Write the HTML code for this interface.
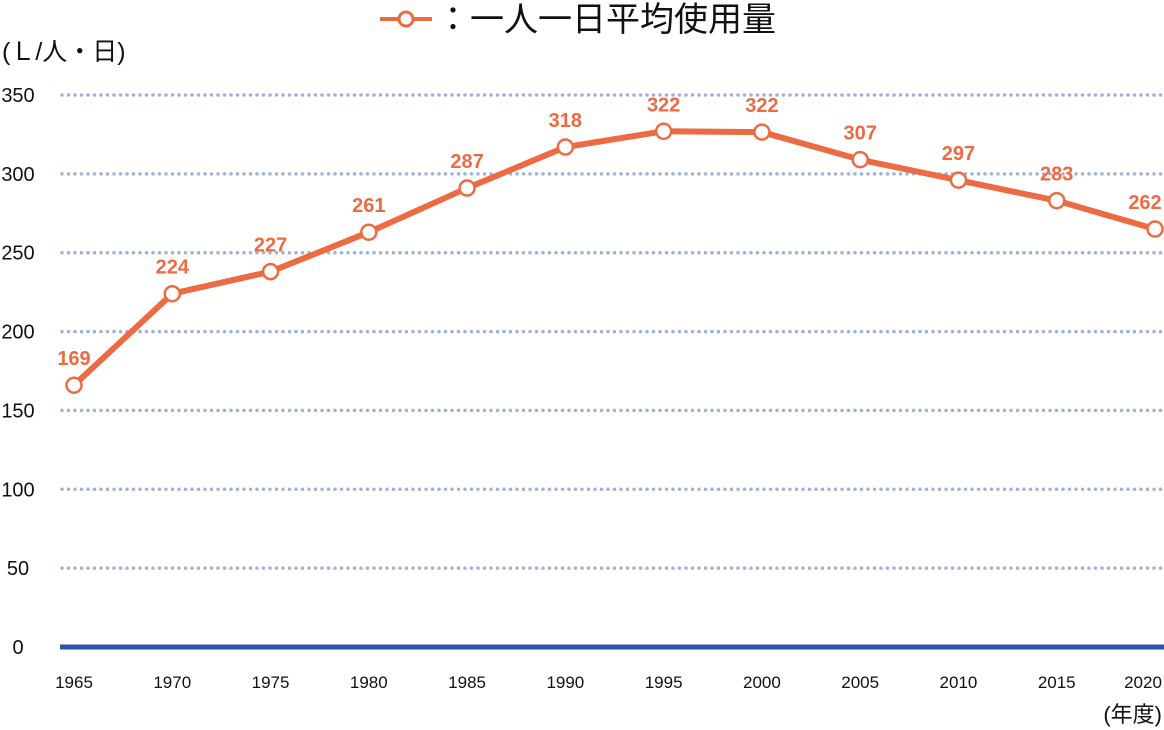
<!DOCTYPE html>
<html><head><meta charset="utf-8"><style>
html,body{margin:0;padding:0;background:#fff;}
svg{display:block;font-family:"Liberation Sans","Noto Sans CJK JP",sans-serif;}
</style></head><body>
<svg id="chart" width="1164" height="730">
<g>
<line x1="380" y1="19" x2="432" y2="19" stroke="#ec6b42" stroke-width="4"/>
<circle cx="406" cy="19" r="7" fill="#fff" stroke="#ec6b42" stroke-width="3"/>
<text x="436" y="31" font-size="34" fill="#111">：一人一日平均使用量</text>
</g>
<text x="2" y="60" font-size="25" fill="#111">(Ｌ/人・日)</text>
<text x="1162" y="722" font-size="22" fill="#111" text-anchor="end">(年度)</text>
<g id="grid"></g><g id="axes"></g><g id="series"></g>
</svg>
<script>
const years=["1965","1970","1975","1980","1985","1990","1995","2000","2005","2010","2015","2020"];
const values=[166,224,238,263,291,317,327,326.5,309,296,283,265];
const labels=["169","224","227","261","287","318","322","322","307","297","283","262"];
const yTicks=[0,50,100,150,200,250,300,350];
const NS="http://www.w3.org/2000/svg";
function x(i){return 74+i*(1155-74)/(years.length-1);}
function y(v){return 647-v*(647-95)/350;}
function mk(tag,attrs,parent,txt){const e=document.createElementNS(NS,tag);for(const k in attrs)e.setAttribute(k,attrs[k]);if(txt!==undefined)e.textContent=txt;parent.appendChild(e);return e;}
const grid=document.getElementById('grid'),axes=document.getElementById('axes'),ser=document.getElementById('series');
yTicks.forEach(t=>{
 if(t>0){const l=mk('line',{x1:62,x2:1164,y1:y(t),y2:y(t),stroke:'#9fb1d8','stroke-width':3.5,'stroke-dasharray':'0 6.5','stroke-linecap':'round'},grid);
 
 }
 const tx=mk('text',{x:18,y:y(t)+7,'font-size':20,'text-anchor':'middle',fill:'#111'},axes,String(t));
 
 
});
const base=mk('line',{x1:60,x2:1164,y1:y(0),y2:y(0),stroke:'#2f56a6','stroke-width':5},axes);


years.forEach((yr,i)=>{
 const t=mk('text',{x:Math.min(x(i),1143),y:688,'font-size':17,'text-anchor':'middle',fill:'#111'},axes,yr);
 
 
});
const line=mk('polyline',{points:values.map((v,i)=>x(i)+','+y(v)).join(' '),fill:'none',stroke:'#ec6b42','stroke-width':6,'stroke-linejoin':'round'},ser);


values.forEach((v,i)=>{
 const c=mk('circle',{cx:x(i),cy:y(v),r:7.5,fill:'#fff',stroke:'#ec6b42','stroke-width':2.5},ser);
 
 
 const lx=Math.min(x(i),1145);
 const t=mk('text',{x:lx,y:y(v)-20,'font-size':20,'font-weight':'bold','text-anchor':'middle',fill:'#ec6b42'},ser,labels[i]);
 
 
});
</script>
</body></html>
